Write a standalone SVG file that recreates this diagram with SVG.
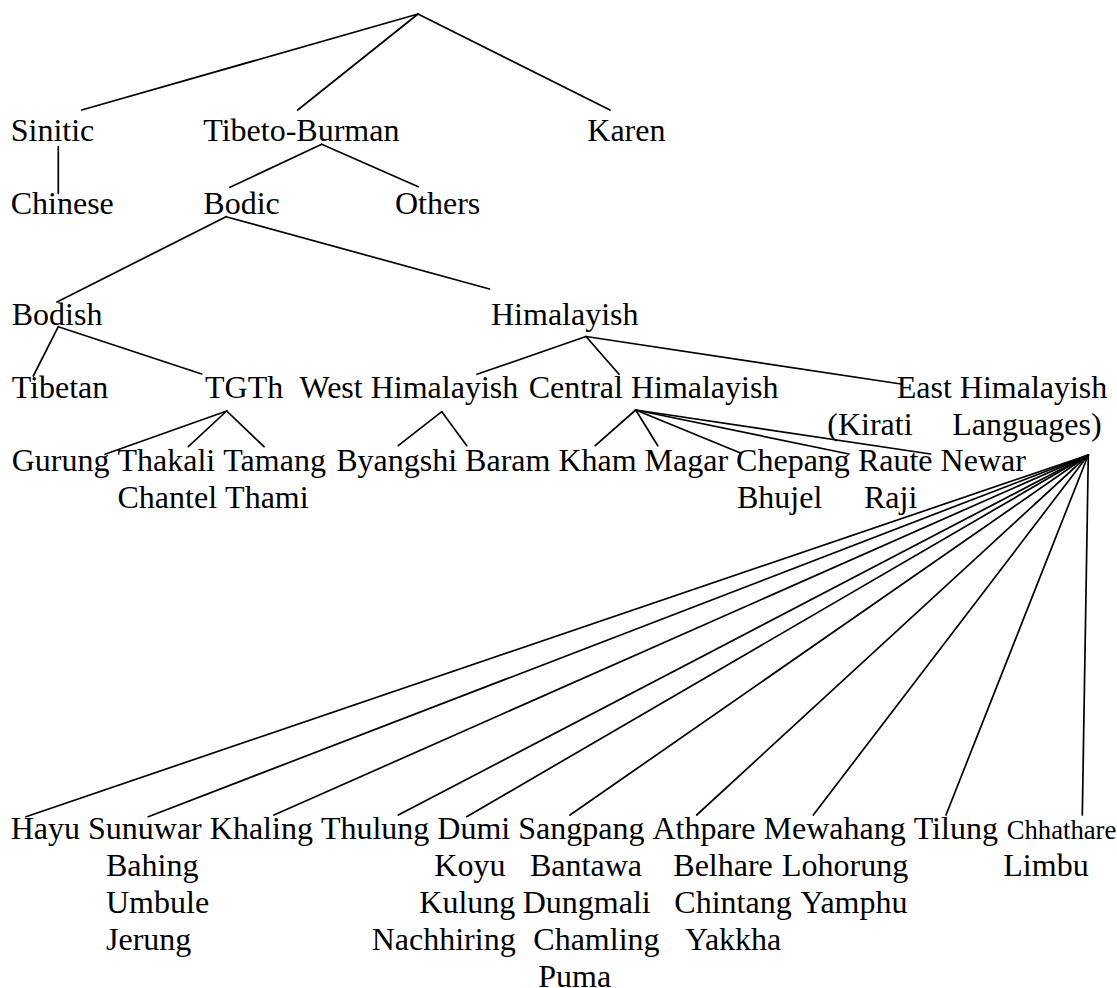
<svg xmlns="http://www.w3.org/2000/svg" width="1117" height="988" viewBox="0 0 1117 988">
<style>
text{font-family:"Liberation Serif","Times New Roman",serif;font-size:32px;fill:#000}
text.sm{font-size:26.7px}
#connectors line{stroke:#000;stroke-width:1.7;stroke-linecap:round}
</style>
<rect width="1117" height="988" fill="#fff"/>
<g id="connectors">
<line x1="418" y1="14" x2="81.7" y2="110"/>
<line x1="418" y1="14" x2="297.7" y2="110"/>
<line x1="418" y1="14" x2="610" y2="110"/>
<line x1="58.3" y1="146.7" x2="58.3" y2="193.3"/>
<line x1="321.7" y1="144.3" x2="230" y2="187.3"/>
<line x1="321.7" y1="144.3" x2="418.3" y2="186.7"/>
<line x1="226" y1="216.7" x2="57" y2="302"/>
<line x1="226" y1="216.7" x2="489.5" y2="289"/>
<line x1="58.3" y1="326.7" x2="33.3" y2="376"/>
<line x1="58.3" y1="326.7" x2="201.7" y2="374"/>
<line x1="586" y1="336.5" x2="477" y2="374.3"/>
<line x1="586" y1="336.5" x2="619" y2="374.3"/>
<line x1="586" y1="336.5" x2="901" y2="384"/>
<line x1="226.7" y1="411" x2="105" y2="454.3"/>
<line x1="226.7" y1="411" x2="188.3" y2="446.7"/>
<line x1="226.7" y1="411" x2="264" y2="446.7"/>
<line x1="441.8" y1="411.7" x2="398.2" y2="445.7"/>
<line x1="441.8" y1="411.7" x2="466.8" y2="445.7"/>
<line x1="635.7" y1="410" x2="595.2" y2="445.7"/>
<line x1="635.7" y1="410" x2="657.8" y2="445.7"/>
<line x1="635.7" y1="410" x2="740.5" y2="453"/>
<line x1="635.7" y1="410" x2="849" y2="454"/>
<line x1="635.7" y1="410" x2="930.5" y2="454"/>
<line x1="1088.3" y1="455" x2="26" y2="816.7"/>
<line x1="1088.3" y1="455" x2="148.3" y2="816.7"/>
<line x1="1088.3" y1="455" x2="274" y2="815"/>
<line x1="1088.3" y1="455" x2="398.3" y2="815"/>
<line x1="1088.3" y1="455" x2="466.7" y2="816.7"/>
<line x1="1088.3" y1="455" x2="570" y2="815"/>
<line x1="1088.3" y1="455" x2="696.7" y2="815"/>
<line x1="1088.3" y1="455" x2="813.3" y2="815"/>
<line x1="1088.3" y1="455" x2="946" y2="815"/>
<line x1="1088.3" y1="455" x2="1082.3" y2="815"/>
</g>
<g id="n-sinitic"><text x="10.7" y="140.5">Sinitic</text></g>
<g id="n-tibeto-burman"><text x="203.3" y="140.5">Tibeto-Burman</text></g>
<g id="n-karen"><text x="587.3" y="140.5">Karen</text></g>
<g id="n-chinese"><text x="10.7" y="213.5">Chinese</text></g>
<g id="n-bodic"><text x="203.3" y="213.5">Bodic</text></g>
<g id="n-others"><text x="395" y="213.5">Others</text></g>
<g id="n-bodish"><text x="11.7" y="324.5">Bodish</text></g>
<g id="n-himalayish"><text x="491" y="324.5">Himalayish</text></g>
<g id="n-tibetan"><text x="11.7" y="398">Tibetan</text></g>
<g id="n-tgth"><text x="205" y="398">TGTh</text></g>
<g id="n-west"><text x="299.5" y="398">West Himalayish</text></g>
<g id="n-central"><text x="528.7" y="398">Central Himalayish</text></g>
<g id="n-east"><text x="896.7" y="398">East Himalayish</text><text x="827.3" y="434.5">(Kirati</text><text x="952.3" y="434.5">Languages)</text></g>
<g id="n-gurung"><text x="11.7" y="471.3">Gurung</text></g>
<g id="n-thakali"><text x="117.5" y="471.3">Thakali</text><text x="117.5" y="508.1">Chantel</text></g>
<g id="n-tamang"><text x="223.3" y="471.3">Tamang</text><text x="225.1" y="508.1">Thami</text></g>
<g id="n-byangshi"><text x="336.2" y="471.3">Byangshi</text></g>
<g id="n-baram"><text x="465.1" y="471.3">Baram</text></g>
<g id="n-kham"><text x="558.4" y="471.3">Kham</text></g>
<g id="n-magar"><text x="644.6" y="471.3">Magar</text></g>
<g id="n-chepang"><text x="736.1" y="471.3">Chepang</text><text x="737" y="508.1">Bhujel</text></g>
<g id="n-raute"><text x="857.9" y="471.3">Raute</text><text x="864" y="508.1">Raji</text></g>
<g id="n-newar"><text x="940.6" y="471.3">Newar</text></g>
<g id="n-hayu"><text x="10.7" y="839.3">Hayu</text></g>
<g id="n-sunuwar"><text x="88" y="839.3">Sunuwar</text><text x="106" y="876.1">Bahing</text><text x="106" y="912.9">Umbule</text><text x="106" y="949.7">Jerung</text></g>
<g id="n-khaling"><text x="209.8" y="839.3">Khaling</text></g>
<g id="n-thulung"><text x="320.9" y="839.3">Thulung</text></g>
<g id="n-dumi"><text x="437.3" y="839.3">Dumi</text><text x="434.3" y="876.1">Koyu</text><text x="419.3" y="912.9">Kulung</text><text x="371.7" y="949.7">Nachhiring</text></g>
<g id="n-sangpang"><text x="518.2" y="839.3">Sangpang</text><text x="530" y="876.1">Bantawa</text><text x="522.7" y="912.9">Dungmali</text><text x="533.3" y="949.7">Chamling</text><text x="538.3" y="986.5">Puma</text></g>
<g id="n-athpare"><text x="652.4" y="839.3">Athpare</text><text x="673.3" y="876.1">Belhare</text><text x="674.3" y="912.9">Chintang</text><text x="685" y="949.7">Yakkha</text></g>
<g id="n-mewahang"><text x="763.5" y="839.3">Mewahang</text><text x="782" y="876.1">Lohorung</text><text x="800.5" y="912.9">Yamphu</text></g>
<g id="n-tilung"><text x="913.7" y="839.3">Tilung</text></g>
<g id="n-chhathare"><text class="sm" x="1006.7" y="839.3">Chhathare</text><text x="1003.3" y="876.1">Limbu</text></g>
</svg>
